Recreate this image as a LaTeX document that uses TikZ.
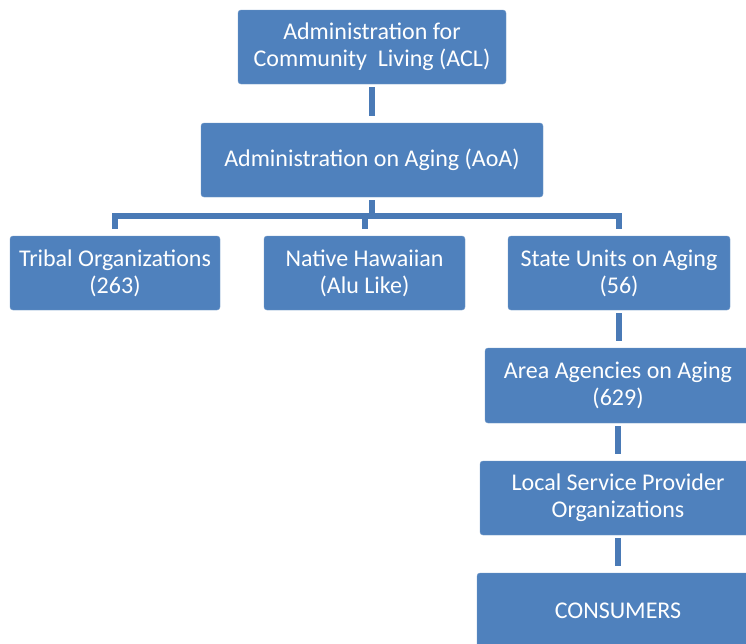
\documentclass[tikz,border=0pt]{standalone}
\usepackage{fontspec}
\setmainfont{Carlito}
\usepackage{xcolor}
\usepackage{tikz}
\usetikzlibrary{positioning,calc}

\definecolor{boxblue}{HTML}{4F81BD}
\definecolor{linkblue}{HTML}{4A7AB6}

\tikzset{
    orgbox/.style={rectangle, rounded corners=3pt, fill=boxblue, draw=boxblue!80!white,
        text=white, align=center, inner sep=0pt,
        font=\fontsize{24}{27}\selectfont},
    link/.style={draw=linkblue, line width=6pt, shorten <=3pt, shorten >=6.5pt}
}

\begin{document}
\begin{tikzpicture}[x=1pt,y=-1pt]
    \clip (0,0) rectangle (746,643);
    \fill[white] (0,0) rectangle (746,643);

    \node[orgbox, minimum width=268pt, minimum height=74pt] (acl) at (372,47)
        {Administration for\\Community\ \ Living (ACL)};
    \node[orgbox, minimum width=342pt, minimum height=74pt] (aoa) at (372,160)
        {Administration on Aging (AoA)};

    \node[orgbox, minimum width=210pt, minimum height=74pt] (tribal) at (115,273)
        {Tribal Organizations\\(263)};
    \node[orgbox, minimum width=201pt, minimum height=74pt] (hawaii) at (364.5,273)
        {Native Hawaiian\\(Alu Like)};
    \node[orgbox, minimum width=222pt, minimum height=74pt] (state) at (619,273)
        {State Units on Aging\\(56)};

    \node[orgbox, minimum width=266pt, minimum height=75pt] (area) at (618,385.5)
        {Area Agencies on Aging\\(629)};
    \node[orgbox, minimum width=276pt, minimum height=74pt] (local) at (618,498)
        {Local Service Provider\\Organizations};
    \node[orgbox, minimum width=282pt, minimum height=76pt] (consumers) at (618,611)
        {CONSUMERS};

    % top of the tree
    \draw[link] (acl) -- (aoa);
    \coordinate (fork) at ($(aoa.south)+(0,19)$);
    \draw[link, shorten >=0pt] (aoa.south) -- (fork);
    \draw[link, shorten <=0pt] (fork) -| (tribal.north);
    \draw[link, shorten <=0pt] (fork) -| (hawaii.north);
    \draw[link, shorten <=0pt] (fork) -| (state.north);

    % state chain
    \draw[link] (state.south) -- (state.south |- area.north);
    \draw[link] (area.south) -- (area.south |- local.north);
    \draw[link] (local.south) -- (local.south |- consumers.north);
\end{tikzpicture}
\end{document}
